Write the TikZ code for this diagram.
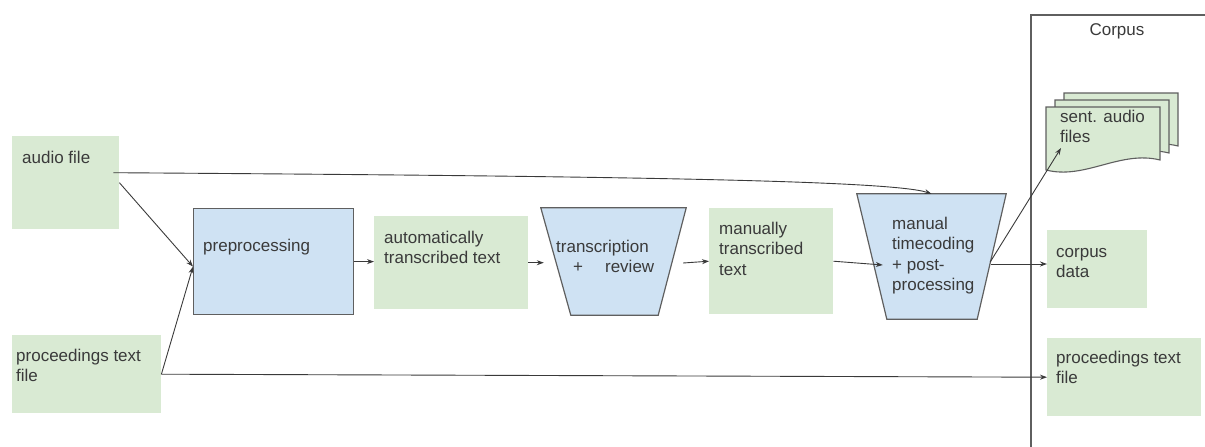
\documentclass[tikz,border=0pt]{standalone}
\usepackage{fontspec}
\setmainfont{Liberation Sans}
\usetikzlibrary{arrows.meta}
\definecolor{gfill}{HTML}{D9EAD3}
\definecolor{bfill}{HTML}{CFE2F3}
\definecolor{edge}{HTML}{5F5F5F}
\definecolor{txt}{HTML}{3A3A3A}
\begin{document}
\begin{tikzpicture}[x=1pt,y=-1pt,
  every node/.style={font=\fontsize{17}{20.5}\selectfont, text=txt},
  gbox/.style={fill=gfill, draw=none, anchor=north west, inner sep=0},
  bbox/.style={fill=bfill, draw=edge, line width=1.2pt, anchor=north west, inner sep=0},
  trapframe/.style={inner sep=0, draw=none},
  trapline/.style={fill=bfill, draw=edge, line width=1.2pt, line join=miter},
  lbl/.style={anchor=base west, inner sep=0, align=left},
  conn/.style={draw=txt, line width=0.9pt, -{Stealth[length=7pt,width=5pt]}}
]
\useasboundingbox (0,0) rectangle (1205,447);

% corpus frame
\draw[edge, line width=1.3pt] (1031,448) -- (1031,15) -- (1206,15);
\node[anchor=base, inner sep=0] (corpus) at (1117,35) {Corpus};

% boxes
\node[gbox, minimum width=107pt, minimum height=93pt] (audio) at (12,136) {};
\node[gbox, minimum width=149pt, minimum height=78pt] (procl) at (12,335) {};
\node[bbox, minimum width=160pt, minimum height=106pt] (pre) at (193,208) {};
\node[gbox, minimum width=154pt, minimum height=93pt] (auto) at (374,216) {};
\node[trapframe, minimum width=145pt, minimum height=107pt] (trans) at (613.5,261.5) {};
\draw[trapline] (trans.north west) -- (trans.north east) -- ([xshift=-28pt]trans.south east) -- ([xshift=30pt]trans.south west) -- cycle;
\node[gbox, minimum width=124pt, minimum height=106pt] (man) at (709,208) {};
\node[trapframe, minimum width=149pt, minimum height=125pt] (tc) at (931.5,256.5) {};
\draw[trapline] (tc.north west) -- (tc.north east) -- ([xshift=-29pt]tc.south east) -- ([xshift=30pt]tc.south west) -- cycle;
\node[gbox, minimum width=100pt, minimum height=78pt] (cdata) at (1047,230) {};
\node[gbox, minimum width=154pt, minimum height=78pt] (procr) at (1047,338) {};

% multi-document
\foreach \d in {18,9,0}{
  \draw[shift={(\d,-\d*7/9)}, fill=gfill, draw=edge, line width=1.1pt]
    (1046,107) -- (1160,107) -- (1160,160) .. controls (1120,150) and (1085,180) .. (1046,170) -- cycle;
}
\coordinate (sentin) at (1061,148);

% labels (anchor = baseline of last line)
\node[lbl] (t-audio) at (22,163) {audio file};
\node[lbl] (t-procl) at (16,381.5) {proceedings text\\file};
\node[lbl] (t-pre) at (203,251) {preprocessing};
\node[lbl] (t-auto) at (384,263.5) {automatically\\transcribed text};
\node[lbl] (t-trans) at (556,272.5) {transcription\\\hspace*{17pt}+\hspace{22pt}review};
\node[lbl] (t-man) at (719,275) {manually\\transcribed\\text};
\node[lbl] (t-tc) at (892,290.5) {manual\\timecoding\\+ post-\\processing};
\node[lbl] (t-sent) at (1060,142.5) {sent. audio\\files};
\node[lbl] (t-cdata) at (1056,277.5) {corpus\\data};
\node[lbl] (t-procr) at (1056,383.5) {proceedings text\\file};

% connectors
\draw[conn] (audio.east) -- ([yshift=-5pt]pre.west);
\draw[conn] (procl.east) -- ([yshift=-5pt]pre.west);
\draw[conn] ([xshift=-6pt,yshift=10pt]audio.east) .. controls (600,176) and (890,180) .. (tc.north);
\draw[conn] (pre.east) -- (pre.east -| auto.west);
\draw[conn] (auto.east) -- ([xshift=3pt]auto.east -| trans.west);
\draw[conn] ([xshift=-3pt,yshift=-1.5pt]trans.east) -- (man.west);
\draw[conn] (man.east) -- ([xshift=26pt,yshift=-8.5pt]tc.west);
\draw[conn] ([xshift=-15pt,yshift=-7.5pt]tc.east) -- ([yshift=-7.5pt]tc.center -| cdata.west);
\draw[conn] ([xshift=-16pt,yshift=-5.5pt]tc.east) -- (sentin);
\draw[conn] (procl.east) -- (procr.west);
\end{tikzpicture}
\end{document}
